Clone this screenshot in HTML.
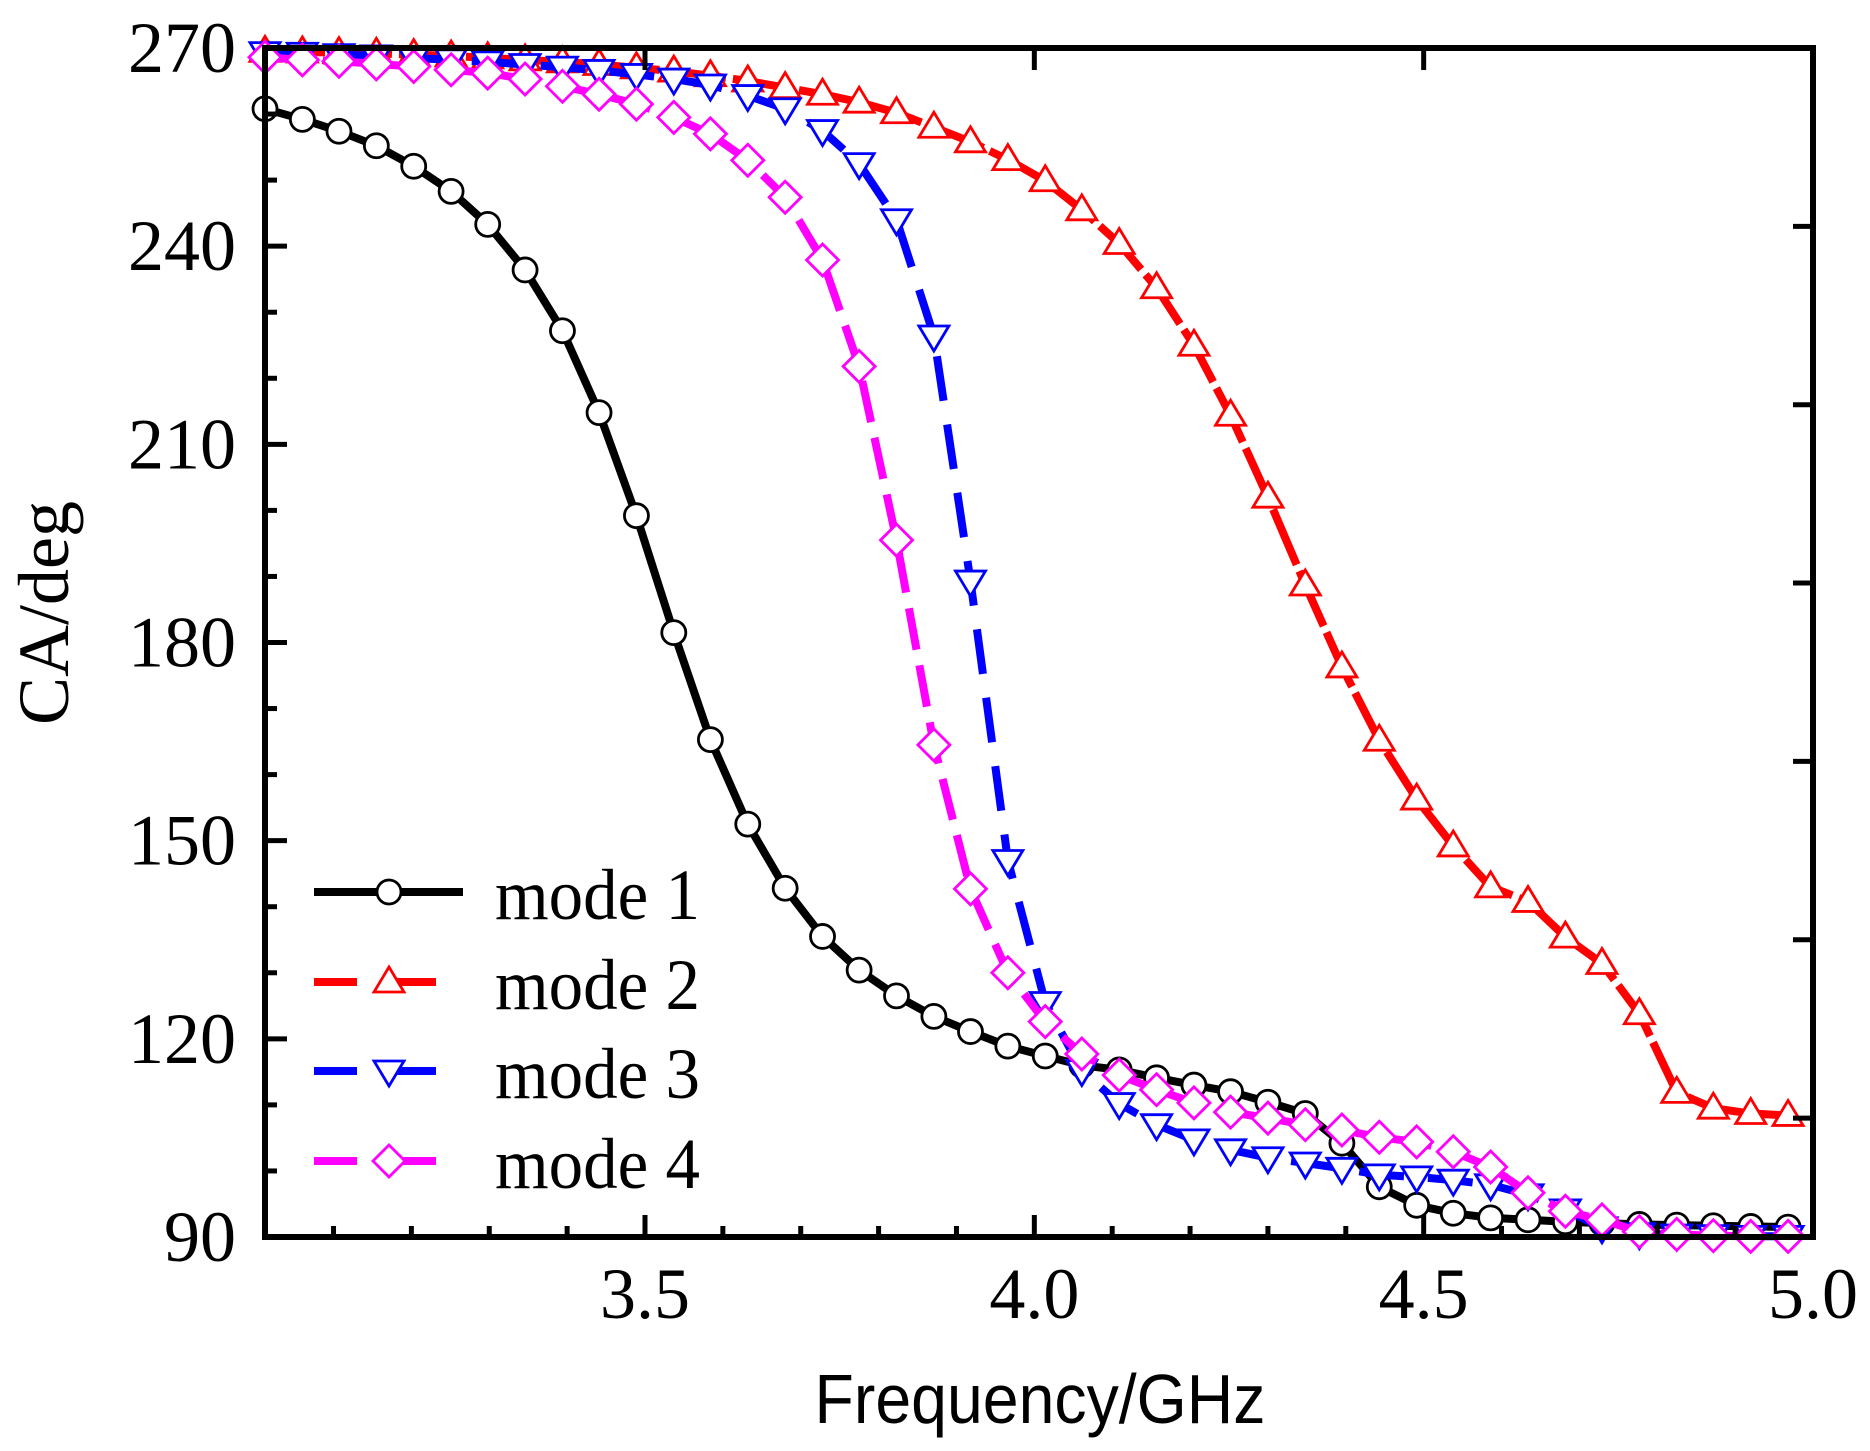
<!DOCTYPE html>
<html><head><meta charset="utf-8"><style>
html,body{margin:0;padding:0;background:#fff;}
svg{display:block;}
</style></head><body>
<svg id="chart" width="1870" height="1451" viewBox="0 0 1870 1451" xmlns="http://www.w3.org/2000/svg">
<g id="marks"></g>
<g id="axes"></g>
</svg>
<script>
const freqs = [3.012,3.060,3.107,3.155,3.203,3.251,3.298,3.346,3.394,3.441,3.489,3.537,3.584,3.632,3.680,3.728,3.775,3.823,3.871,3.918,3.966,4.014,4.061,4.109,4.157,4.205,4.252,4.300,4.348,4.395,4.443,4.491,4.538,4.586,4.634,4.682,4.729,4.777,4.825,4.872,4.920,4.968];
const mode1 = [260.8,259.2,257.4,255.2,252.1,248.3,243.3,236.4,227.2,214.8,199.2,181.5,165.3,152.5,142.8,135.5,130.4,126.5,123.4,121.1,118.9,117.4,116.0,115.3,114.1,113.0,112.0,110.4,108.7,104.2,97.6,94.8,93.6,92.9,92.6,92.3,92.1,91.9,91.8,91.7,91.6,91.5];
const mode2 = [269.5,269.4,269.3,269.2,269.0,268.8,268.5,268.2,267.9,267.5,267.0,266.5,265.8,265.0,264.0,263.0,261.8,260.2,258.0,255.8,253.1,249.9,245.5,240.4,233.7,225.0,214.4,202.0,188.7,176.3,165.2,156.3,149.2,143.0,140.8,135.4,131.4,123.8,111.9,109.5,108.7,108.4];
const mode3 = [269.3,269.2,269.0,268.8,268.5,268.2,267.9,267.5,267.1,266.6,266.0,265.3,264.4,262.8,260.8,257.5,252.5,244.0,226.4,189.3,147.0,125.5,115.2,110.2,107.0,104.7,103.2,102.0,101.2,100.4,99.4,99.1,98.6,97.9,96.4,94.1,91.4,90.5,90.3,90.2,90.1,90.1];
const mode4 = [268.6,268.2,268.0,267.6,267.2,266.7,266.2,265.3,264.2,263.0,261.5,259.5,257.0,253.0,247.4,237.9,221.8,195.5,164.5,142.7,130.0,122.6,117.7,114.5,112.3,110.3,108.9,108.0,107.0,106.2,105.1,104.4,102.9,100.6,96.7,93.9,92.6,90.8,90.4,90.2,90.1,90.1];
const xTicks = [3.5,4.0,4.5,5.0];
const xTickLabels = ["3.5","4.0","4.5","5.0"];
const xMinor = [3.1,3.2,3.3,3.4,3.6,3.7,3.8,3.9,4.1,4.2,4.3,4.4,4.6,4.7,4.8,4.9];
const yTicks = [90,120,150,180,210,240,270];
const yTickLabels = ["90","120","150","180","210","240","270"];
const yMinor = [100,110,130,140,160,170,190,200,220,230,250,260];
const rightTicks = [243,216,189,162,135,108];
const seriesNames = ["mode 1","mode 2","mode 3","mode 4"];

const L=265,R=1813,T=48,B=1237,XMIN=3.012,XMAX=5.0,YMIN=90,YMAX=270;
const sx=v=>L+(v-XMIN)/(XMAX-XMIN)*(R-L);
const sy=v=>B-(v-YMIN)/(YMAX-YMIN)*(B-T);
const NS="http://www.w3.org/2000/svg";
const marks=document.getElementById('marks'), axes=document.getElementById('axes');
function mk(tag,attrs,parent){const e=document.createElementNS(NS,tag);for(const k in attrs)e.setAttribute(k,attrs[k]);parent.appendChild(e);return e;}

const styles=[
 {c:"#000",dash:"",m:"circle"},
 {c:"#ff0000",dash:"60 7",m:"up"},
 {c:"#0000ff",dash:"45 24",m:"down"},
 {c:"#ff00ff",dash:"42 16",m:"diamond"}];
const data=[mode1,mode2,mode3,mode4];

function marker(type,x,y,c,parent){
  let e;
  if(type==="circle") e=mk('circle',{cx:x,cy:y,r:12,fill:"#fff",stroke:c,"stroke-width":2.8},parent);
  else if(type==="up") e=mk('polygon',{points:`${x},${y-15} ${x+15},${y+10} ${x-15},${y+10}`,fill:"#fff",stroke:c,"stroke-width":2.8},parent);
  else if(type==="down") e=mk('polygon',{points:`${x},${y+15} ${x+15},${y-10} ${x-15},${y-10}`,fill:"#fff",stroke:c,"stroke-width":2.8},parent);
  else e=mk('polygon',{points:`${x},${y-16} ${x+16},${y} ${x},${y+16} ${x-16},${y}`,fill:"#fff",stroke:c,"stroke-width":2.8},parent);
  return e;
}

data.forEach((vals,si)=>{
  const st=styles[si];
  const g=mk('g',{},marks);
  
  
  const pts=vals.map((v,i)=>sx(freqs[i]).toFixed(1)+","+sy(v).toFixed(1)).join(" ");
  const line=mk('polyline',{points:pts,fill:"none",stroke:st.c,"stroke-width":8,"stroke-linejoin":"round"},g);
  if(st.dash) line.setAttribute('stroke-dasharray',st.dash);
  
  
  vals.forEach((v,i)=>{
    const e=marker(st.m,sx(freqs[i]),sy(v),st.c,g);
    
    
  });
});

const frame=mk('rect',{x:L,y:T,width:R-L,height:B-T,fill:"none",stroke:"#000","stroke-width":6},axes);



xTicks.forEach((v,i)=>{
  const x=sx(v);
  const t=mk('line',{x1:x,y1:B,x2:x,y2:B-22,stroke:"#000","stroke-width":5},axes);
  
  
  const t2=mk('line',{x1:x,y1:T,x2:x,y2:T+22,stroke:"#000","stroke-width":5},axes);
  
  
  const lb=mk('text',{x:x,y:1318,"text-anchor":"middle","font-family":"Liberation Serif, serif","font-size":72},axes);
  lb.textContent=xTickLabels[i];
  
  
});
xMinor.forEach(v=>{
  const t=mk('line',{x1:sx(v),y1:B,x2:sx(v),y2:B-11,stroke:"#000","stroke-width":5},axes);
  
  
});
yTicks.forEach((v,i)=>{
  const y=sy(v);
  const t=mk('line',{x1:L,y1:y,x2:L+22,y2:y,stroke:"#000","stroke-width":5},axes);
  
  
  const lb=mk('text',{x:236,y:y+24,"text-anchor":"end","font-family":"Liberation Serif, serif","font-size":72},axes);
  lb.textContent=yTickLabels[i];
  
  
});
yMinor.forEach(v=>{
  const t=mk('line',{x1:L,y1:sy(v),x2:L+12,y2:sy(v),stroke:"#000","stroke-width":5},axes);
  
  
});
rightTicks.forEach(v=>{
  const t=mk('line',{x1:R,y1:sy(v),x2:R-20,y2:sy(v),stroke:"#000","stroke-width":5},axes);
  
  
});

const xt=mk('text',{x:0,y:0,transform:"translate(1040,1423) scale(0.92,1)","text-anchor":"middle","font-family":"Liberation Sans, sans-serif","font-size":70},axes);
xt.textContent="Frequency/GHz";


const yt=mk('text',{x:0,y:0,transform:"translate(68,613) rotate(-90)","text-anchor":"middle","font-family":"Liberation Serif, serif","font-size":72},axes);
yt.textContent="CA/deg";



const legY=[892,982,1071,1161];
const lg=mk('g',{},axes);


styles.forEach((st,i)=>{
  const g=mk('g',{},lg);
  
  
  const y=legY[i];
  if(i===0){
    mk('line',{x1:314,y1:y,x2:463,y2:y,stroke:st.c,"stroke-width":8},g);
  } else {
    mk('line',{x1:314,y1:y,x2:357,y2:y,stroke:st.c,"stroke-width":8},g);
    mk('line',{x1:396,y1:y,x2:436,y2:y,stroke:st.c,"stroke-width":8},g);
  }
  marker(st.m,389,y,st.c,g);
  const tx=mk('text',{x:495,y:y+27,"font-family":"Liberation Serif, serif","font-size":72,textLength:205,lengthAdjust:"spacingAndGlyphs"},g);
  tx.textContent=seriesNames[i];
});
</script>
</body></html>
